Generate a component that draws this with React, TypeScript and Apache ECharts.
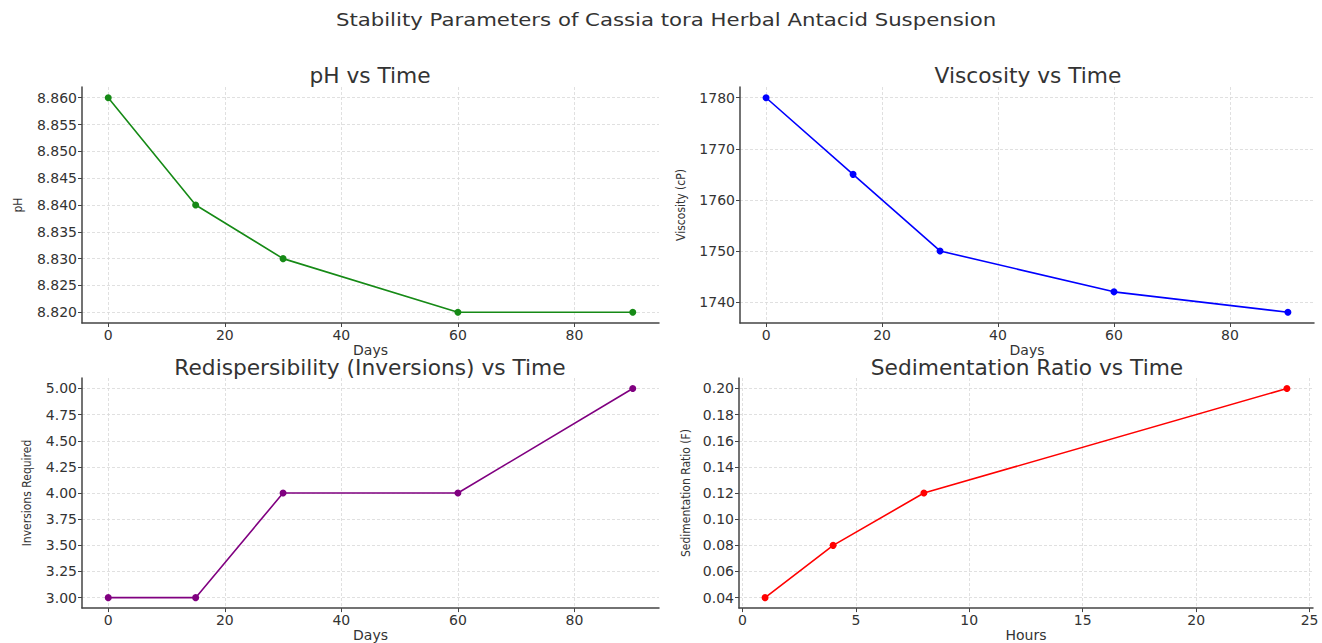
import React, { useEffect, useRef } from "react";
import * as echarts from "echarts";

const days = [0, 15, 30, 60, 90];
const phValues = [8.86, 8.84, 8.83, 8.82, 8.82];
const viscosityValues = [1780, 1765, 1750, 1742, 1738];
const inversionValues = [3, 3, 4, 4, 5];
const hours = [1, 4, 8, 24];
const sedimentationValues = [0.04, 0.08, 0.12, 0.2];

const dayTicks = [0, 20, 40, 60, 80];
const hourTicks = [0, 5, 10, 15, 20, 25];
const phTicks = [8.82, 8.825, 8.83, 8.835, 8.84, 8.845, 8.85, 8.855, 8.86];
const viscosityTicks = [1740, 1750, 1760, 1770, 1780];
const inversionTicks = [3, 3.25, 3.5, 3.75, 4, 4.25, 4.5, 4.75, 5];
const sedimentationTicks = [0.04, 0.06, 0.08, 0.1, 0.12, 0.14, 0.16, 0.18, 0.2];

const mainTitle = "Stability Parameters of Cassia tora Herbal Antacid Suspension";
const subTitles = [
  "pH vs Time",
  "Viscosity vs Time",
  "Redispersibility (Inversions) vs Time",
  "Sedimentation Ratio vs Time",
];

const FONT = "DejaVu Sans";
const COND = "'DejaVu Sans Condensed', 'DejaVu Sans'";

function extent(arr: number[]): [number, number] {
  const mn = Math.min(...arr);
  const mx = Math.max(...arr);
  const pad = (mx - mn) * 0.05;
  return [mn - pad, mx + pad];
}

function xAxis(gridIndex: number, ticks: number[], data: number[], name: string) {
  const [mn, mx] = extent(data);
  return {
    type: "value",
    gridIndex,
    min: mn,
    max: mx,
    name,
    nameLocation: "middle",
    nameGap: 14,
    nameTextStyle: { fontFamily: FONT, fontSize: 14, color: "#333" },
    axisLine: { show: true, onZero: false, lineStyle: { color: "#444", width: 1.5 } },
    axisTick: { show: true, customValues: ticks, length: 4, lineStyle: { color: "#444", width: 1 } },
    axisLabel: {
      customValues: ticks,
      fontFamily: FONT,
      fontSize: 14,
      color: "#333",
      margin: 5,
      formatter: (v: number) => String(v),
    },
    splitLine: { show: true, lineStyle: { color: "#d8d8d8", type: [3, 2], width: 0.8 } },
  };
}

function yAxis(
  gridIndex: number,
  ticks: number[],
  data: number[],
  name: string,
  decimals: number,
  gap: number
) {
  const [mn, mx] = extent(data);
  return {
    type: "value",
    gridIndex,
    min: mn,
    max: mx,
    name,
    nameLocation: "middle",
    nameGap: gap,
    nameTextStyle: { fontFamily: COND, fontSize: 12, color: "#333" },
    axisLine: { show: true, onZero: false, lineStyle: { color: "#444", width: 1.5 } },
    axisTick: { show: true, customValues: ticks, length: 4, lineStyle: { color: "#444", width: 1 } },
    axisLabel: {
      customValues: ticks,
      fontFamily: FONT,
      fontSize: 14,
      color: "#333",
      margin: 5,
      formatter: (v: number) => v.toFixed(decimals),
    },
    splitLine: { show: true, lineStyle: { color: "#d8d8d8", type: [3, 2], width: 0.8 } },
  };
}

function lineSeries(idx: number, xs: number[], ys: number[], color: string) {
  return {
    type: "line",
    xAxisIndex: idx,
    yAxisIndex: idx,
    data: xs.map((x, i) => [x, ys[i]]),
    symbol: "circle",
    symbolSize: 7,
    lineStyle: { color, width: 1.6 },
    itemStyle: { color },
    z: 5,
  };
}

export default function App() {
  const ref = useRef<HTMLDivElement>(null);
  useEffect(() => {
    document.body.style.margin = "0";
    if (!ref.current) return;
    const chart = echarts.init(ref.current, undefined, { renderer: "svg" });
    const titleStyle = { fontFamily: FONT, fontSize: 20.5, fill: "#333", align: "center", verticalAlign: "middle" };
    chart.setOption({
      animation: false,
      backgroundColor: "#fff",
      grid: [
        { left: 82, top: 87, width: 577, height: 236 },
        { left: 740, top: 87, width: 574, height: 236 },
        { left: 82, top: 378, width: 577, height: 236 },
        { left: 739, top: 378, width: 574, height: 236 },
      ],
      xAxis: [
        xAxis(0, dayTicks, days, "Days"),
        xAxis(1, dayTicks, days, "Days"),
        xAxis(2, dayTicks, days, "Days"),
        xAxis(3, hourTicks, hours, "Hours"),
      ],
      yAxis: [
        yAxis(0, phTicks, phValues, "pH", 3, 58),
        yAxis(1, viscosityTicks, viscosityValues, "Viscosity (cP)", 0, 53),
        yAxis(2, inversionTicks, inversionValues, "Inversions Required", 2, 49),
        yAxis(3, sedimentationTicks, sedimentationValues, "Sedimentation Ratio (F)", 2, 47),
      ],
      series: [
        lineSeries(0, days, phValues, "#168a16"),
        lineSeries(1, days, viscosityValues, "#0000ff"),
        lineSeries(2, days, inversionValues, "#800080"),
        lineSeries(3, hours, sedimentationValues, "#ff0000"),
      ],
      graphic: [
        { type: "text", x: 666, y: 20, scaleX: 1.25, style: { ...titleStyle, fontSize: 17, text: mainTitle } },
        { type: "text", x: 370, y: 76, scaleX: 1.06, style: { ...titleStyle, text: subTitles[0] } },
        { type: "text", x: 1028, y: 76, scaleX: 1.06, style: { ...titleStyle, text: subTitles[1] } },
        { type: "text", x: 370, y: 368, scaleX: 1.06, style: { ...titleStyle, text: subTitles[2] } },
        { type: "text", x: 1027, y: 368, scaleX: 1.06, style: { ...titleStyle, text: subTitles[3] } },
      ],
    });
    return () => chart.dispose();
  }, []);
  return <div ref={ref} style={{ width: 1322, height: 643 }} />;
}
